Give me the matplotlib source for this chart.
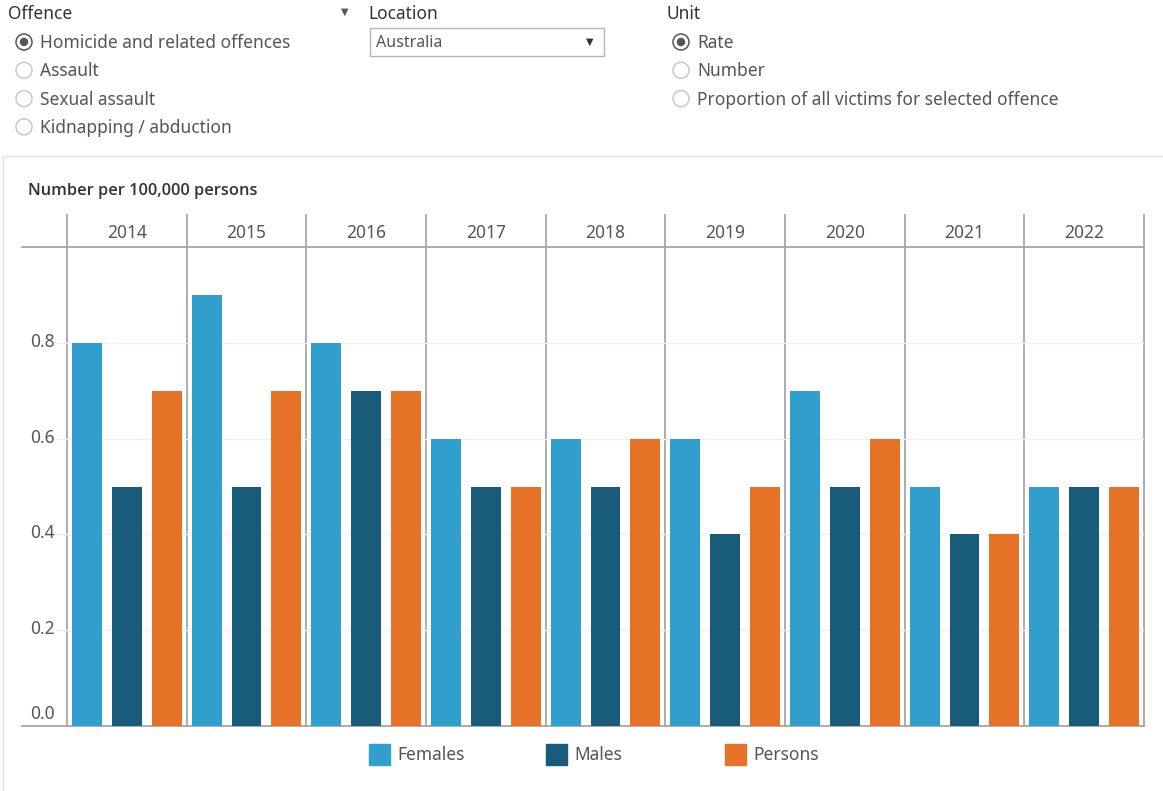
import matplotlib
matplotlib.use("Agg")
import matplotlib.pyplot as plt
from matplotlib.patches import Circle, Rectangle
import numpy as np

plt.rcParams['font.family'] = ['Noto Sans', 'DejaVu Sans']

years = ["2014", "2015", "2016", "2017", "2018", "2019", "2020", "2021", "2022"]
series = ["Females", "Males", "Persons"]
females = [0.8, 0.9, 0.8, 0.6, 0.6, 0.6, 0.7, 0.5, 0.5]
males = [0.5, 0.5, 0.7, 0.5, 0.5, 0.4, 0.5, 0.4, 0.5]
persons = [0.7, 0.7, 0.7, 0.5, 0.6, 0.5, 0.6, 0.4, 0.5]
colors = ["#319fce", "#185b7a", "#e57226"]
yticks = [0.0, 0.2, 0.4, 0.6, 0.8]

offences = ["Homicide and related offences", "Assault", "Sexual assault", "Kidnapping / abduction"]
units = ["Rate", "Number", "Proportion of all victims for selected offence"]

W, H = 1163, 791
fig = plt.figure(figsize=(W / 100, H / 100), dpi=100)

# overlay in pixel coordinates (behind the chart axes)
ov = fig.add_axes([0, 0, 1, 1], zorder=0)
ov.set_xlim(0, W)
ov.set_ylim(H, 0)
ov.axis("off")

TXT = "#555555"
DARK = "#333333"
LINE = "#a6a6a6"
FS = 12.5

# chart axes
x0, x1, ytop, ybot = 67, 1144, 247, 726
ax = fig.add_axes([x0 / W, 1 - ybot / H, (x1 - x0) / W, (ybot - ytop) / H], zorder=1)
ax.patch.set_alpha(0)
n = len(years)
vals = [females, males, persons]
for j, (v, c) in enumerate(zip(vals, colors)):
    xs = np.arange(n) * 3 + j + 0.5
    ax.bar(xs, v, width=0.75, color=c, zorder=3)
ax.set_xlim(0, 3 * n)
ax.set_ylim(0, 1.0)
ax.set_yticks(yticks)
ax.set_yticklabels([])
ax.tick_params(axis='y', length=0)
ax.set_xticks([])
for s in ax.spines.values():
    s.set_visible(False)
for t in yticks[1:]:
    ax.axhline(t, color="#efefef", lw=1, zorder=1)
    ax.plot([-0.27, 0], [t, t], color="#efefef", lw=1, clip_on=False, zorder=1)
for t in yticks:
    off = 0.025 if t == 0 else 0.002
    ax.text(-0.3, t + off, f"{t:.1f}", transform=ax.transData, ha="right", va="center",
            color=TXT, fontsize=FS, clip_on=False)

# panel separators (plot + header)
for k in range(n + 1):
    xp = x0 + k * (x1 - x0) / n
    ov.plot([xp, xp], [215, ybot], color=LINE, lw=1.3)
ov.plot([22, x1], [ytop, ytop], color=LINE, lw=1.3)
ov.plot([22, x1], [ybot, ybot], color=LINE, lw=1.3)
for k, yr in enumerate(years):
    xc = x0 + (k + 0.5) * (x1 - x0) / n
    ov.text(xc, 233, yr, ha="center", va="center", color=TXT, fontsize=FS)

ov.text(28, 191, "Number per 100,000 persons", ha="left", va="center",
        color=DARK, fontsize=11.8, fontweight="semibold",
        family=["Open Sans", "DejaVu Sans"])

# panel frame
ov.plot([3, W], [156, 156], color="#e3e3e3", lw=1)
ov.plot([3, 3], [156, H], color="#e3e3e3", lw=1)

# legend
leg_x = [369, 546, 725]
for lx, name, c in zip(leg_x, series, colors):
    ov.add_patch(Rectangle((lx, 744), 21, 21, color=c))
    ov.text(lx + 28, 755, name, ha="left", va="center", color=TXT, fontsize=FS)

# controls
def radio(cx, cy, selected):
    ec = "#555555" if selected else "#c8c8c8"
    ov.add_patch(Circle((cx, cy), 8, fill=False, ec=ec, lw=1.1))
    if selected:
        ov.add_patch(Circle((cx, cy), 3.5, color="#555555"))

ov.text(8, 14, "Offence", ha="left", va="center", color=DARK, fontsize=FS)
for i, o in enumerate(offences):
    cy = 42 + 28.3 * i
    radio(24, cy, i == 0)
    ov.text(40, cy + 1, o, ha="left", va="center", color=TXT, fontsize=FS)

ov.text(345, 12, "\u25BC", ha="center", va="center", color="#555555", fontsize=7)
ov.text(368, 14, "Location", ha="left", va="center", color=DARK, fontsize=FS)
ov.add_patch(Rectangle((369.5, 28), 234, 28, fill=False, ec="#b5b5b5", lw=1))
ov.text(376, 43, "Australia", ha="left", va="center", color=TXT, fontsize=11.5)
ov.text(590, 42, "\u25BC", ha="center", va="center", color=DARK, fontsize=7)

ov.text(666, 14, "Unit", ha="left", va="center", color=DARK, fontsize=FS)
for i, u in enumerate(units):
    cy = 42 + 28.3 * i
    radio(681, cy, i == 0)
    ov.text(697, cy + 1, u, ha="left", va="center", color=TXT, fontsize=FS)

fig.savefig("out.png", dpi=100)
